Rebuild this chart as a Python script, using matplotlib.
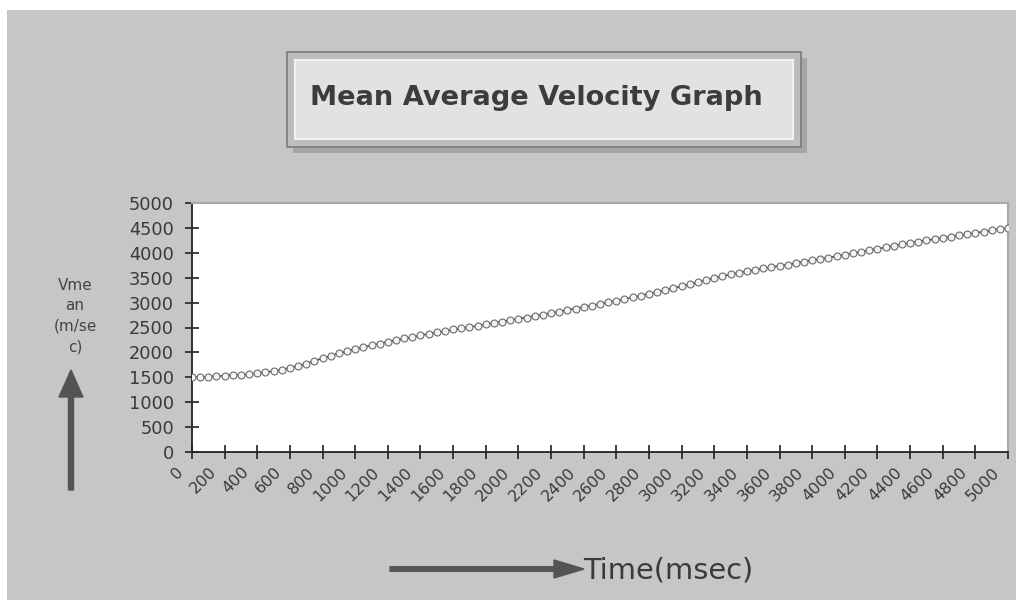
import numpy as np
from matplotlib import pyplot as plt
from matplotlib import transforms as mtransforms
from matplotlib.patches import Rectangle, FancyArrow

# time axis (msec) and mean velocity readings (m/sec), sampled every 50 msec
time_ms = list(range(0, 5001, 50))
v_mean = [1500, 1510, 1505, 1525, 1530, 1545, 1540, 1565, 1580, 1600,
          1625, 1650, 1690, 1730, 1775, 1830, 1880, 1930, 1985, 2020,
          2070, 2100, 2145, 2175, 2215, 2240, 2280, 2300, 2345, 2370,
          2400, 2425, 2460, 2480, 2510, 2530, 2565, 2590, 2620, 2645,
          2680, 2700, 2735, 2760, 2795, 2820, 2855, 2880, 2915, 2940,
          2980, 3005, 3040, 3070, 3105, 3140, 3180, 3215, 3250, 3290,
          3330, 3370, 3410, 3455, 3495, 3530, 3565, 3600, 3630, 3655,
          3685, 3710, 3740, 3765, 3795, 3820, 3850, 3875, 3905, 3930,
          3960, 3990, 4020, 4050, 4080, 4110, 4140, 4170, 4200, 4225,
          4250, 4275, 4300, 4325, 4350, 4375, 4400, 4425, 4450, 4475,
          4500]

x_ticks = list(range(0, 5001, 200))
y_ticks = list(range(0, 5001, 500))

title = "Mean Average Velocity Graph"
y_label = "Vme\nan\n(m/se\nc)"
x_label = "Time(msec)"

BG = "#c6c6c6"
INK = "#3a3a3a"

fig = plt.figure(figsize=(10.16, 6.0), dpi=100)
fig.patch.set_facecolor("white")

# overlay in pixel units for the backdrop, title box, arrows and captions
ov = fig.add_axes([0, 0, 1, 1], zorder=0)
ov.set_xlim(0, 1016)
ov.set_ylim(600, 0)
ov.axis("off")
ov.add_patch(Rectangle((7, 10), 1009, 590, fc=BG, ec="none"))

ax = fig.add_axes([192 / 1016, 148 / 600, 816 / 1016, 249 / 600], zorder=2)
ax.set_facecolor("white")
ax.plot(time_ms, v_mean, color="#444444", lw=1.1, marker="o", ms=5,
        mfc="#f4f4f4", mec="#6a6a6a", mew=0.8, zorder=3)

ax.set_xlim(0, 5000)
ax.set_ylim(0, 5000)
ax.set_xticks(x_ticks)
ax.set_yticks(y_ticks)
ax.set_xticklabels([str(t) for t in x_ticks], rotation=45, ha="right",
                   va="top", rotation_mode="anchor", fontsize=11.5,
                   family="DejaVu Sans", color=INK)
ax.set_yticklabels([str(t) for t in y_ticks], fontsize=12.8,
                   family="DejaVu Sans", color=INK)
ax.tick_params(axis="both", direction="inout", length=10, width=1.2,
               color="#222222")
ax.tick_params(axis="x", pad=4)
ax.tick_params(axis="y", pad=8)
# rotated labels sit a little to the left of their ticks
shift = mtransforms.ScaledTranslation(-16 / 100, 0, fig.dpi_scale_trans)
for lab in ax.get_xticklabels():
    lab.set_transform(lab.get_transform() + shift)
for side in ("left", "bottom"):
    ax.spines[side].set_color("#222222")
    ax.spines[side].set_linewidth(1.3)
for side in ("top", "right"):
    ax.spines[side].set_color("#a8a8a8")
    ax.spines[side].set_linewidth(1.5)

# title box with a soft drop shadow and bevel
top = fig.add_axes([0, 0, 1, 1], zorder=5)
top.set_xlim(0, 1016)
top.set_ylim(600, 0)
top.axis("off")
top.patch.set_alpha(0)
top.add_patch(Rectangle((293, 58), 514, 95, fc="#8a8a8a", ec="none", alpha=0.55))
top.add_patch(Rectangle((287, 52), 514, 95, fc="#bdbdbd", ec="#7a7a7a", lw=1.2))
top.add_patch(Rectangle((295, 60), 498, 79, fc="#e2e2e2", ec="#f2f2f2", lw=1.5))
top.text(310, 98, title, fontsize=19.6, fontweight="bold",
         family="DejaVu Sans", color="#3c3c3c", ha="left", va="center")

# y caption with the upward arrow
top.text(75, 316, y_label, fontsize=11, family="DejaVu Sans", color="#444444",
         ha="center", va="center", linespacing=1.45)
top.add_patch(FancyArrow(71, 490, 0, -120, width=5, head_width=24,
                         head_length=27, length_includes_head=True,
                         fc="#545454", ec="#545454"))

# x caption with the rightward arrow
top.add_patch(FancyArrow(390, 569, 194, 0, width=4.5, head_width=18,
                         head_length=30, length_includes_head=True,
                         fc="#545454", ec="#545454"))
top.text(583, 570, x_label, fontsize=20.8, family="DejaVu Sans",
         color=INK, ha="left", va="center")

fig.savefig("out.png", dpi=100, facecolor=fig.get_facecolor())
